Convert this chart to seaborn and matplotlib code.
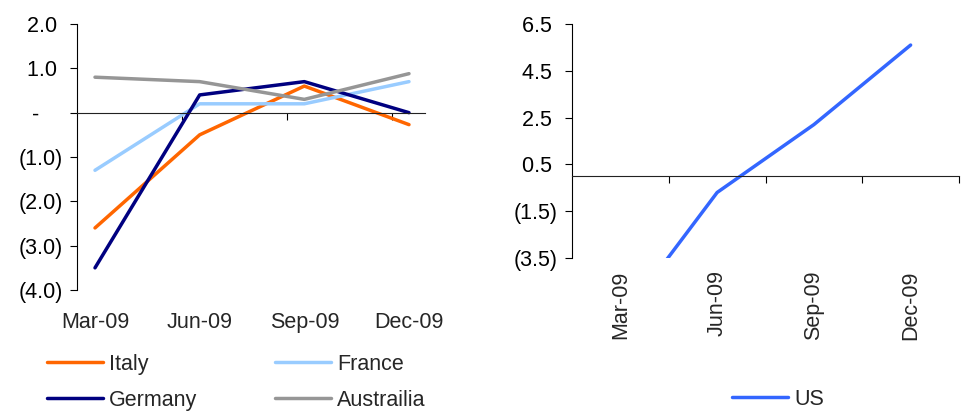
import numpy as np
import pandas as pd
import matplotlib
matplotlib.use("Agg")
import matplotlib.pyplot as plt
import seaborn as sns

# Quarterly values
quarters = ["Mar-09", "Jun-09", "Sep-09", "Dec-09"]
italy = [-2.6, -0.5, 0.6, -0.27]
france = [-1.3, 0.2, 0.2, 0.7]
germany = [-3.5, 0.4, 0.7, 0.0]
australia = [0.8, 0.7, 0.3, 0.88]
us = [-6.2, -0.7, 2.2, 5.6]

left_ticks = [2.0, 1.0, 0.0, -1.0, -2.0, -3.0, -4.0]
right_ticks = [6.5, 4.5, 2.5, 0.5, -1.5, -3.5]

colors = {
    "Italy": "#FF6600",
    "France": "#99CCFF",
    "Germany": "#000080",
    "Austrailia": "#969696",
    "US": "#3366FF",
}

sns.set_style("white")
plt.rcParams["font.family"] = ["Liberation Sans", "DejaVu Sans"]
FS = 15.5
LW = 2.5


def acct(v):
    """Accounting-style label: (x.x) for negatives, '-' for zero."""
    if abs(v) < 1e-9:
        return "-    "
    if v < 0:
        return f"({abs(v):.1f})"
    return f"{v:.1f} "


pos = np.arange(len(quarters))
left_df = pd.DataFrame({
    "pos": np.tile(pos, 4),
    "value": italy + france + germany + australia,
    "series": np.repeat(["Italy", "France", "Germany", "Austrailia"], len(quarters)),
})
right_df = pd.DataFrame({"pos": pos, "value": us, "series": ["US"] * len(quarters)})

fig = plt.figure(figsize=(9.72, 4.11), dpi=100)
axL = fig.add_axes([77 / 972, 1 - 290 / 411, (425 - 77) / 972, (290 - 24) / 411])
axR = fig.add_axes([572 / 972, 1 - 258 / 411, (959 - 572) / 972, (258 - 24) / 411])

order = ["Italy", "France", "Germany", "Austrailia"]
sns.lineplot(data=left_df, x="pos", y="value", hue="series", hue_order=order,
             palette=colors, linewidth=LW, ax=axL, legend=False)
sns.lineplot(data=right_df, x="pos", y="value", hue="series",
             palette=colors, linewidth=LW, ax=axR, legend=False)

for ax in (axL, axR):
    ax.set_xlabel("")
    ax.set_ylabel("")
    ax.spines["top"].set_visible(False)
    ax.spines["right"].set_visible(False)
    ax.spines["left"].set_color("black")
    ax.spines["left"].set_linewidth(0.8)
    ax.spines["bottom"].set_color("#222222")
    ax.spines["bottom"].set_linewidth(0.8)
    ax.spines["bottom"].set_position(("data", 0))
    ax.tick_params(axis="both", direction="out", length=5, width=0.8,
                   color="black", labelsize=FS, labelcolor="black",
                   left=True, bottom=True)
    ax.tick_params(axis="x", labelbottom=False)
    ax.grid(False)

# Left panel
axL.set_ylim(-4.0, 2.0)
axL.set_yticks(left_ticks)
axL.set_yticklabels([acct(v) for v in left_ticks])
axL.tick_params(axis="y", pad=5)
axL.set_xlim(-0.172, 3.153)
axL.set_xticks(pos[1:] - 0.166)
secL = axL.secondary_xaxis("bottom")
secL.set_xticks(pos)
secL.set_xticklabels(quarters)
secL.spines["bottom"].set_visible(False)
secL.tick_params(length=0, labelsize=FS, pad=16, bottom=True)

# Right panel
axR.set_ylim(-3.5, 6.5)
axR.set_yticks(right_ticks)
axR.set_yticklabels([acct(v) for v in right_ticks])
axR.tick_params(axis="y", pad=5)
axR.set_xlim(-0.5, len(quarters) - 0.5)
axR.set_xticks(pos + 0.5)
secR = axR.secondary_xaxis("bottom")
secR.set_xticks(pos)
secR.set_xticklabels(quarters, rotation=90, va="top", ha="center")
secR.spines["bottom"].set_visible(False)
secR.tick_params(length=0, labelsize=FS, pad=9, bottom=True)

# Legends
lines = dict(zip(order, axL.get_lines()))
leg_order = ["Italy", "Germany", "France", "Austrailia"]
fig.legend([lines[k] for k in leg_order], leg_order, ncol=2, frameon=False,
           fontsize=FS, handlelength=2.6, handletextpad=0.3, columnspacing=3.6,
           labelspacing=0.7, loc="upper left",
           bbox_to_anchor=(38 / 972, 1 - 345 / 411), borderaxespad=0)
fig.legend([axR.get_lines()[0]], ["US"], frameon=False, fontsize=FS,
           handlelength=2.6, handletextpad=0.3, loc="upper left",
           bbox_to_anchor=(723 / 972, 1 - 380 / 411), borderaxespad=0)

fig.savefig("out.png", dpi=100, facecolor="white")
